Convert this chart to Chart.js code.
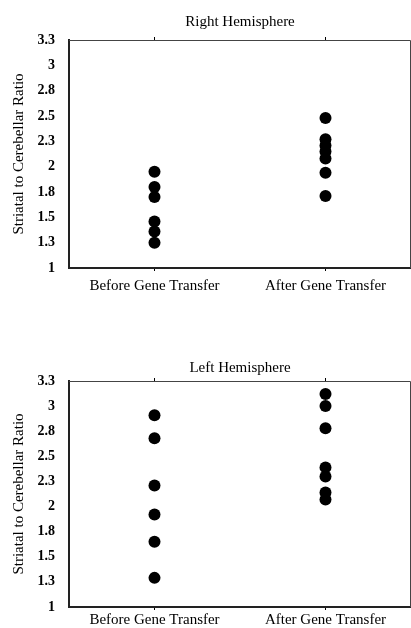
<!DOCTYPE html>
<html>
<head>
<meta charset="utf-8">
<script src="https://cdn.jsdelivr.net/npm/chart.js@4"></script>
<style>
  body { margin: 0; background: #fff; overflow: hidden; }
  .box { position: absolute; left: 0; width: 411px; }
  #topBox { top: 0; height: 302px; }
  #bottomBox { top: 329px; height: 301px; }
</style>
</head>
<body>
<div class="box" id="topBox"><canvas id="rightChart"></canvas></div>
<div class="box" id="bottomBox"><canvas id="leftChart"></canvas></div>
<script>
// striatal to cerebellar ratio, before / after gene transfer

const categories = ['Before Gene Transfer', 'After Gene Transfer'];
const yTickLabels = ['1', '1.3', '1.5', '1.8', '2', '2.3', '2.5', '2.8', '3', '3.3'];

const rightBefore = [1.95, 1.80, 1.70, 1.46, 1.36, 1.25];
const rightAfter = [2.48, 2.27, 2.21, 2.15, 2.08, 1.94, 1.71];

const leftBefore = [2.91, 2.68, 2.21, 1.92, 1.65, 1.29];
const leftAfter = [3.12, 3.00, 2.78, 2.39, 2.30, 2.14, 2.07];

const serif = "'Liberation Serif', 'DejaVu Serif', serif";

// thin frame on top and right of the plot
const frame = {
    id: 'frame',
    afterDraw(chart) {
        const a = chart.chartArea;
        const ctx = chart.ctx;
        ctx.save();
        ctx.strokeStyle = '#444';
        ctx.lineWidth = 1;
        ctx.beginPath();
        ctx.moveTo(a.left, a.top + 0.5);
        ctx.lineTo(a.right - 0.5, a.top + 0.5);
        ctx.lineTo(a.right - 0.5, a.bottom);
        ctx.stroke();
        ctx.restore();
    }
};

function dots(cat, values) {
    return {
        data: values.map(v => ({ x: cat, y: v })),
        showLine: false,
        pointRadius: 6,
        pointHoverRadius: 6,
        pointBackgroundColor: '#000',
        pointBorderWidth: 0
    };
}

function makeChart(id, title, before, after, titlePad, labelPad, bottomPad) {
    return new Chart(document.getElementById(id), {
        type: 'line',
        data: {
            labels: categories,
            datasets: [dots(categories[0], before), dots(categories[1], after)]
        },
        options: {
            responsive: true,
            maintainAspectRatio: false,
            animation: false,
            layout: { autoPadding: false, padding: { left: 10, right: 0, top: 0, bottom: bottomPad } },
            plugins: {
                legend: { display: false },
                tooltip: { enabled: false },
                title: {
                    display: true,
                    text: title,
                    fullSize: false,
                    color: '#000',
                    font: { family: serif, size: 15, weight: 'normal' },
                    padding: titlePad
                }
            },
            scales: {
                x: {
                    type: 'category',
                    offset: true,
                    grid: { drawOnChartArea: false, tickLength: 3, color: '#000' },
                    border: { color: '#222', width: 2 },
                    ticks: { color: '#000', font: { family: serif, size: 15 }, padding: labelPad, maxRotation: 0 }
                },
                x2: {
                    type: 'category',
                    position: 'top',
                    offset: true,
                    labels: categories,
                    grid: { drawOnChartArea: false, tickLength: 3, color: '#000' },
                    border: { display: false },
                    ticks: { display: false }
                },
                y: {
                    min: 1,
                    max: 3.25,
                    grid: { display: false, drawTicks: false },
                    border: { color: '#222', width: 2 },
                    afterBuildTicks(scale) {
                        scale.ticks = yTickLabels.map((t, i) => ({ value: 1 + i * 0.25 }));
                    },
                    afterFit(scale) {
                        scale.width = 59;
                    },
                    ticks: {
                        color: '#000',
                        font: { family: serif, size: 14, weight: 'bold' },
                        padding: 14,
                        callback: (v, i) => yTickLabels[i]
                    },
                    title: {
                        display: true,
                        text: 'Striatal to Cerebellar Ratio',
                        color: '#000',
                        font: { family: serif, size: 15 },
                        padding: { top: 0, bottom: 8 }
                    }
                }
            }
        },
        plugins: [frame]
    });
}

makeChart('rightChart', 'Right Hemisphere', rightBefore, rightAfter, { top: 13, bottom: 6 }, 6, 1);
makeChart('leftChart', 'Left Hemisphere', leftBefore, leftAfter, { top: 30, bottom: 1 }, 1, 0);
</script>
</body>
</html>
